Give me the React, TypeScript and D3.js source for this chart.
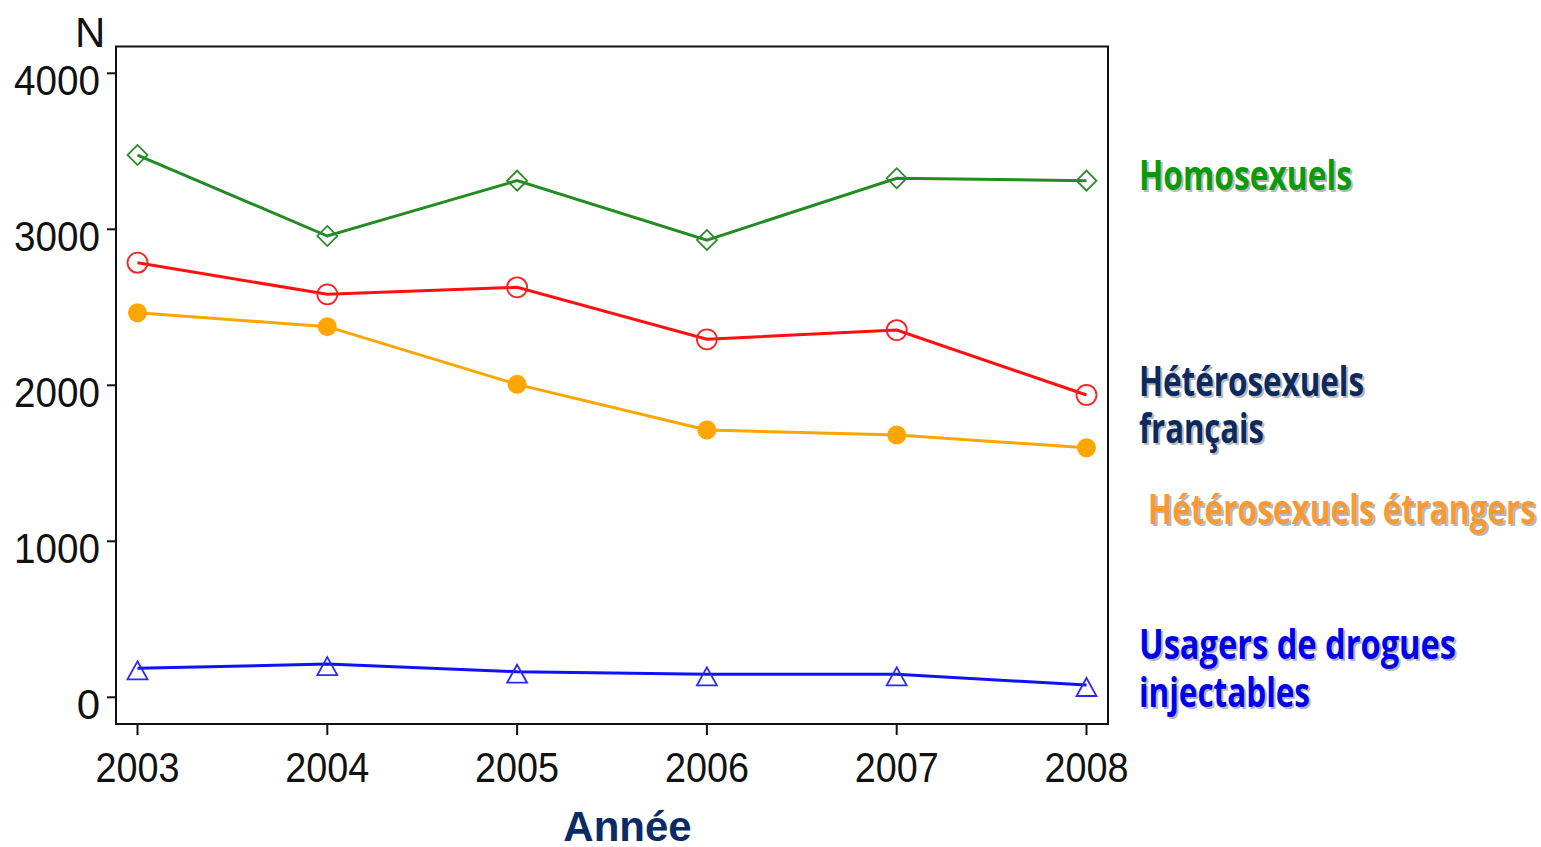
import React from "react";
import * as d3 from "d3";

const years = [2003, 2004, 2005, 2006, 2007, 2008];
const homosexuels = [3476, 2957, 3312, 2931, 3327, 3312];
const heteroFrancais = [2786, 2583, 2628, 2295, 2354, 1938];
const heteroEtrangers = [2465, 2376, 2006, 1713, 1681, 1600];
const udi = [186, 213, 164, 147, 147, 79];
const yTicks = [0, 1000, 2000, 3000, 4000];

const W = 1541;
const H = 847;
const frame = { left: 116, right: 1108, top: 46.5, bottom: 724 };

export default function App() {
  const x = d3.scaleLinear().domain([2003, 2008]).range([137.5, 1086.5]);
  const y = d3.scaleLinear().domain([0, 4000]).range([697.3, 73.3]);
  const line = (vals: number[]) =>
    d3.line<number>().x((_, i) => x(years[i])).y((d) => y(d))(vals) || "";

  const diamond = d3.symbol().type(d3.symbolSquare).size(200)();
  const tri = (cx: number, cy: number) =>
    `M${cx},${cy - 10} L${cx + 10},${cy + 8} L${cx - 10},${cy + 8} Z`;

  const legend = [
    { lines: ["Homosexuels"], x: 1139, ys: [190], lens: [213], color: "#0a9a0a" },
    { lines: ["Hétérosexuels", "français"], x: 1139, ys: [396, 443], lens: [225, 125], color: "#0d2a5e" },
    { lines: ["Hétérosexuels étrangers"], x: 1148, ys: [524], lens: [388], color: "#f59a35" },
    { lines: ["Usagers de drogues", "injectables"], x: 1139, ys: [659, 707], lens: [317, 171], color: "#0000ee" },
  ];

  return (
    <svg width={W} height={H} style={{ position: "absolute", left: 0, top: 0, background: "#fff" }}>
      <rect x={0} y={0} width={W} height={H} fill="#fff" />
      <rect
        x={frame.left}
        y={frame.top}
        width={frame.right - frame.left}
        height={frame.bottom - frame.top}
        fill="none"
        stroke="#111"
        strokeWidth={2}
      />
      {yTicks.map((t) => (
        <g key={t}>
          <line x1={107} x2={frame.left} y1={y(t)} y2={y(t)} stroke="#111" strokeWidth={2} />
          <text
            x={100}
            y={y(t) + 22}
            textAnchor="end"
            fontFamily="'Liberation Sans', Arial, sans-serif"
            fontSize={42}
            fill="#111"
            textLength={t === 0 ? undefined : 86}
            lengthAdjust="spacingAndGlyphs"
          >
            {t}
          </text>
        </g>
      ))}
      <text x={75} y={47} fontFamily="'Liberation Sans', Arial, sans-serif" fontSize={42} fill="#111">
        N
      </text>
      {years.map((yr) => (
        <g key={yr}>
          <line x1={x(yr)} x2={x(yr)} y1={frame.bottom} y2={735} stroke="#111" strokeWidth={2} />
          <text
            x={x(yr) - 42}
            y={782}
            fontFamily="'Liberation Sans', Arial, sans-serif"
            fontSize={42}
            fill="#111"
            textLength={84}
            lengthAdjust="spacingAndGlyphs"
          >
            {yr}
          </text>
        </g>
      ))}
      <text
        x={627.5}
        y={841}
        textAnchor="middle"
        fontFamily="'Liberation Sans', Arial, sans-serif"
        fontWeight="bold"
        fontSize={42}
        fill="#0b2b66"
      >
        Année
      </text>

      <path d={line(homosexuels)} fill="none" stroke="#228b22" strokeWidth={3} />
      <path d={line(heteroFrancais)} fill="none" stroke="#ff1010" strokeWidth={3} />
      <path d={line(heteroEtrangers)} fill="none" stroke="#ffa500" strokeWidth={3} />
      <path d={line(udi)} fill="none" stroke="#1010ff" strokeWidth={3} />

      {homosexuels.map((v, i) => (
        <path
          key={"g" + i}
          d={diamond}
          transform={`translate(${x(years[i])},${y(v)}) rotate(45)`}
          fill="none"
          stroke="#2e8b2e"
          strokeWidth={1.8}
        />
      ))}
      {heteroFrancais.map((v, i) => (
        <circle key={"r" + i} cx={x(years[i])} cy={y(v)} r={10} fill="none" stroke="#ff2020" strokeWidth={1.8} />
      ))}
      {heteroEtrangers.map((v, i) => (
        <circle key={"o" + i} cx={x(years[i])} cy={y(v)} r={9.5} fill="#ffa500" />
      ))}
      {udi.map((v, i) => (
        <path key={"b" + i} d={tri(x(years[i]), y(v) + 3)} fill="none" stroke="#2a2aff" strokeWidth={1.8} />
      ))}

      {legend.map((l, k) =>
        l.lines.map((s, j) => (
          <g key={k + "-" + j} fontFamily="'Open Sans', 'Noto Sans', sans-serif" fontWeight={700} fontSize={41}>
            <text
              x={l.x + 2}
              y={l.ys[j] + 2}
              fill="#b8b8b8"
              textLength={l.lens[j]}
              lengthAdjust="spacingAndGlyphs"
            >
              {s}
            </text>
            <text x={l.x} y={l.ys[j]} fill={l.color} textLength={l.lens[j]} lengthAdjust="spacingAndGlyphs">
              {s}
            </text>
          </g>
        ))
      )}
    </svg>
  );
}
